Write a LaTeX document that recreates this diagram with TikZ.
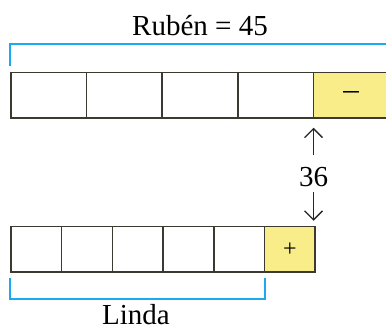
\documentclass[tikz,border=0pt]{standalone}
\usepackage{fontspec}
\setmainfont{Liberation Serif}
\usetikzlibrary{arrows.meta,calc}

\definecolor{partfill}{HTML}{F8ED88}
\definecolor{bracecol}{HTML}{1BAAEE}
\definecolor{cellline}{HTML}{3A3A30}

\begin{document}
\begin{tikzpicture}[x=1pt,y=-1pt]
                \tikzset{cell/.style= {draw=cellline, line width=1.5pt, inner sep=0pt, minimum height=45.5pt},
                         topcell/.style= {cell, minimum width=75.6pt},
                         lowcell/.style= {cell, minimum width=50.7pt},
                         partcell/.style= {fill=partfill, font=\fontsize{24}{24}\selectfont},
                         bracket/.style= {draw=bracecol, line width=2pt},
                         arr/.style= {draw=black!85, line width=1.3pt, -{Straight Barb[length=9pt,width=18pt]}},
                         label/.style= {font=\fontsize{29}{29}\selectfont, inner sep=0pt}}
                \useasboundingbox (0,0) rectangle (386,329);
                % Ruben
                \node[topcell] (R1) at (48.8,95.25) {};
                \node[topcell] (R2) at (124.4,95.25) {};
                \node[topcell] (R3) at (200,95.25) {};
                \node[topcell] (R4) at (275.6,95.25) {};
                \node[topcell, partcell] (R5) at (351.2,95.25) {\fontsize{31}{31}\selectfont –};
                % Linda
                \node[lowcell] (L1) at (36.35,249.25) {};
                \node[lowcell] (L2) at (87.05,249.25) {};
                \node[lowcell] (L3) at (137.75,249.25) {};
                \node[lowcell] (L4) at (188.45,249.25) {};
                \node[lowcell] (L5) at (239.15,249.25) {};
                \node[lowcell, partcell] (L6) at (289.85,249.25) {+};
                % brackets
                \draw[bracket] ([yshift=6pt]R1.north west) |- ([yshift=27.5pt]R5.north east);
                \draw[bracket] ([yshift=-5pt]L1.south west) |- ([yshift=-26pt]L5.south east) -- ([yshift=-5pt]L5.south east);
                % labels
                \node[label, anchor=base] (ruben) at (200,36) {Rubén = 45};
                \node[label, anchor=base] (linda) at (136,324) {Linda};
                \node[label] (diff) at (313.5,177) {36};
                \draw[arr] ([yshift=12.5pt]diff.north) -- ([yshift=-9pt]diff.north |- R5.south);
                \draw[arr] ([yshift=-5.5pt]diff.south) -- ([yshift=5pt]diff.south |- L6.north);
\end{tikzpicture}
\end{document}
